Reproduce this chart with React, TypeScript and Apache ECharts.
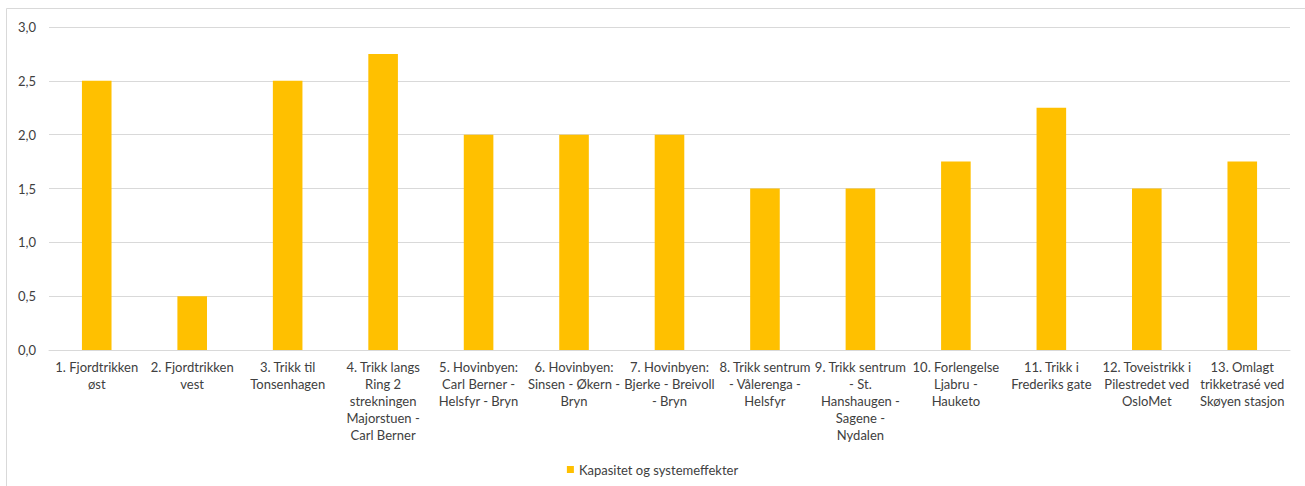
import React, { useEffect, useRef } from "react";
import * as echarts from "echarts";

const categories: string[] = [
  "1. Fjordtrikken\nøst",
  "2. Fjordtrikken\nvest",
  "3. Trikk til\nTonsenhagen",
  "4. Trikk langs\nRing 2\nstrekningen\nMajorstuen -\nCarl Berner",
  "5. Hovinbyen:\nCarl Berner -\nHelsfyr - Bryn",
  "6. Hovinbyen:\nSinsen - Økern -\nBryn",
  "7. Hovinbyen:\nBjerke - Breivoll\n- Bryn",
  "8. Trikk sentrum\n- Vålerenga -\nHelsfyr",
  "9. Trikk sentrum\n- St.\nHanshaugen -\nSagene -\nNydalen",
  "10. Forlengelse\nLjabru -\nHauketo",
  "11. Trikk i\nFrederiks gate",
  "12. Toveistrikk i\nPilestredet ved\nOsloMet",
  "13. Omlagt\ntrikketrasé ved\nSkøyen stasjon",
];
const seriesName = "Kapasitet og systemeffekter";
const values: number[] = [2.5, 0.5, 2.5, 2.75, 2.0, 2.0, 2.0, 1.5, 1.5, 1.75, 2.25, 1.5, 1.75];

const FONT = "Lato, 'Open Sans', sans-serif";
const TEXT = "#404040";

export default function App() {
  const ref = useRef<HTMLDivElement>(null);
  useEffect(() => {
    if (!ref.current) return;
    const chart = echarts.init(ref.current, undefined, { renderer: "svg" });
    chart.setOption({
      animation: false,
      textStyle: { fontFamily: FONT },
      graphic: [
        {
          type: "rect",
          shape: { x: 6.5, y: 8.5, width: 1320, height: 500 },
          style: { fill: "none", stroke: "#d9d9d9", lineWidth: 1 },
          silent: true,
        },
      ],
      grid: { left: 49, right: 15, top: 27, bottom: 136, containLabel: false },
      legend: {
        bottom: 5,
        left: "center",
        itemWidth: 7,
        itemHeight: 7,
        itemGap: 6,
        icon: "rect",
        textStyle: { fontFamily: FONT, fontSize: 13, color: TEXT },
        data: [seriesName],
      },
      xAxis: {
        type: "category",
        data: categories,
        axisTick: { show: false },
        axisLine: { lineStyle: { color: "#d9d9d9", width: 1 } },
        axisLabel: {
          interval: 0,
          margin: 8,
          fontFamily: FONT,
          fontSize: 13,
          lineHeight: 17,
          color: TEXT,
        },
      },
      yAxis: {
        type: "value",
        min: 0,
        max: 3,
        interval: 0.5,
        axisLine: { show: false },
        axisTick: { show: false },
        splitLine: { lineStyle: { color: "#d9d9d9", width: 1 } },
        axisLabel: {
          margin: 13,
          fontFamily: FONT,
          fontSize: 13,
          color: TEXT,
          formatter: (v: number) => v.toFixed(1).replace(".", ","),
        },
      },
      series: [
        {
          name: seriesName,
          type: "bar",
          data: values,
          barWidth: "31%",
          itemStyle: { color: "#FFC000" },
        },
      ],
    });
    return () => chart.dispose();
  }, []);
  return (
    <div
      ref={ref}
      style={{ position: "absolute", left: 0, top: 0, width: 1305, height: 486, background: "#fff" }}
    />
  );
}
